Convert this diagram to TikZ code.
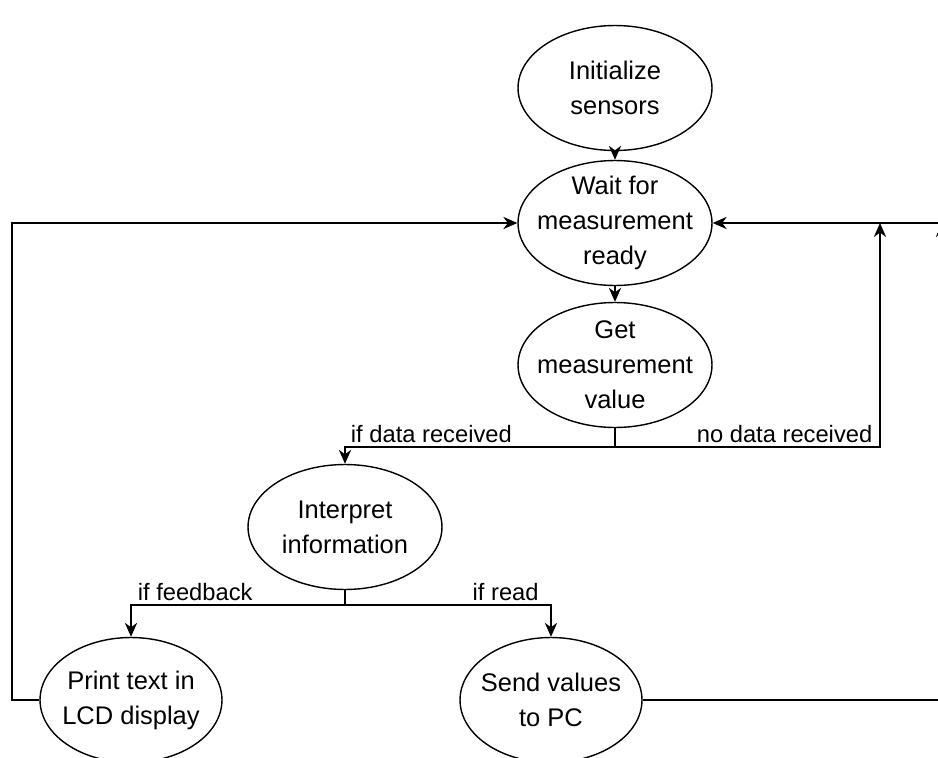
\documentclass[tikz,border=0pt]{standalone}
\usepackage{fontspec}
\setmainfont{Liberation Sans}
\usetikzlibrary{arrows.meta,shapes.geometric}

\begin{document}
\begin{tikzpicture}[x=0.02cm, y=-0.02cm, line width=0.8pt, >={Stealth[length=8pt,width=7pt]},
    state/.style={draw, ellipse, minimum width=3.88cm, minimum height=2.5cm, inner sep=-0.5cm,
      align=center, font=\fontsize{14.5}{20}\selectfont},
    lbl/.style={font=\fontsize{13.5}{16}\selectfont, inner sep=2pt}]
  \clip (0,0) rectangle (938,758);
  \node[state] (init) at (615,88) {Initialize\\sensors};
  \node[state] (wait) at (615,223) {Wait for\\measurement\\ready};
  \node[state] (get) at (615,365) {Get\\measurement\\value};
  \node[state] (interp) at (345,527) {Interpret\\information};
  \node[state, minimum width=3.64cm] (lcd) at (131,700) {Print text in\\LCD display};
  \node[state, minimum width=3.64cm] (send) at (551,700) {Send values\\to PC};
  \coordinate (dsplit) at (615,447);
  \coordinate (isplit) at (345,605);
  \coordinate (njoin) at (880,223);
  \coordinate (rin) at (960,223);
  \coordinate (rbot) at (942,700);
  \coordinate (rtop) at (942,223);
  \coordinate (lft) at (12,700);
  \draw[->] (init) -- (wait);
  \draw[->] (wait) -- (get);
  \draw (get) -- (dsplit);
  \draw[->] (dsplit) -| node[lbl, above, pos=.34]{if data received} (interp);
  \draw[->] (dsplit) -| node[lbl, above, pos=.32]{no data received} (njoin);
  \draw (interp) -- (isplit);
  \draw[->] (isplit) -| node[lbl, above, pos=.35]{if feedback} (lcd);
  \draw[->] (isplit) -| node[lbl, above, pos=.39]{if read} (send);
  \draw[<-] (wait.east) -- (rin);
  \draw[->] (send.east) -- (rbot) -- (rtop);
  \draw[->] (lcd.west) -- (lft) |- (wait.west);
\end{tikzpicture}
\end{document}
